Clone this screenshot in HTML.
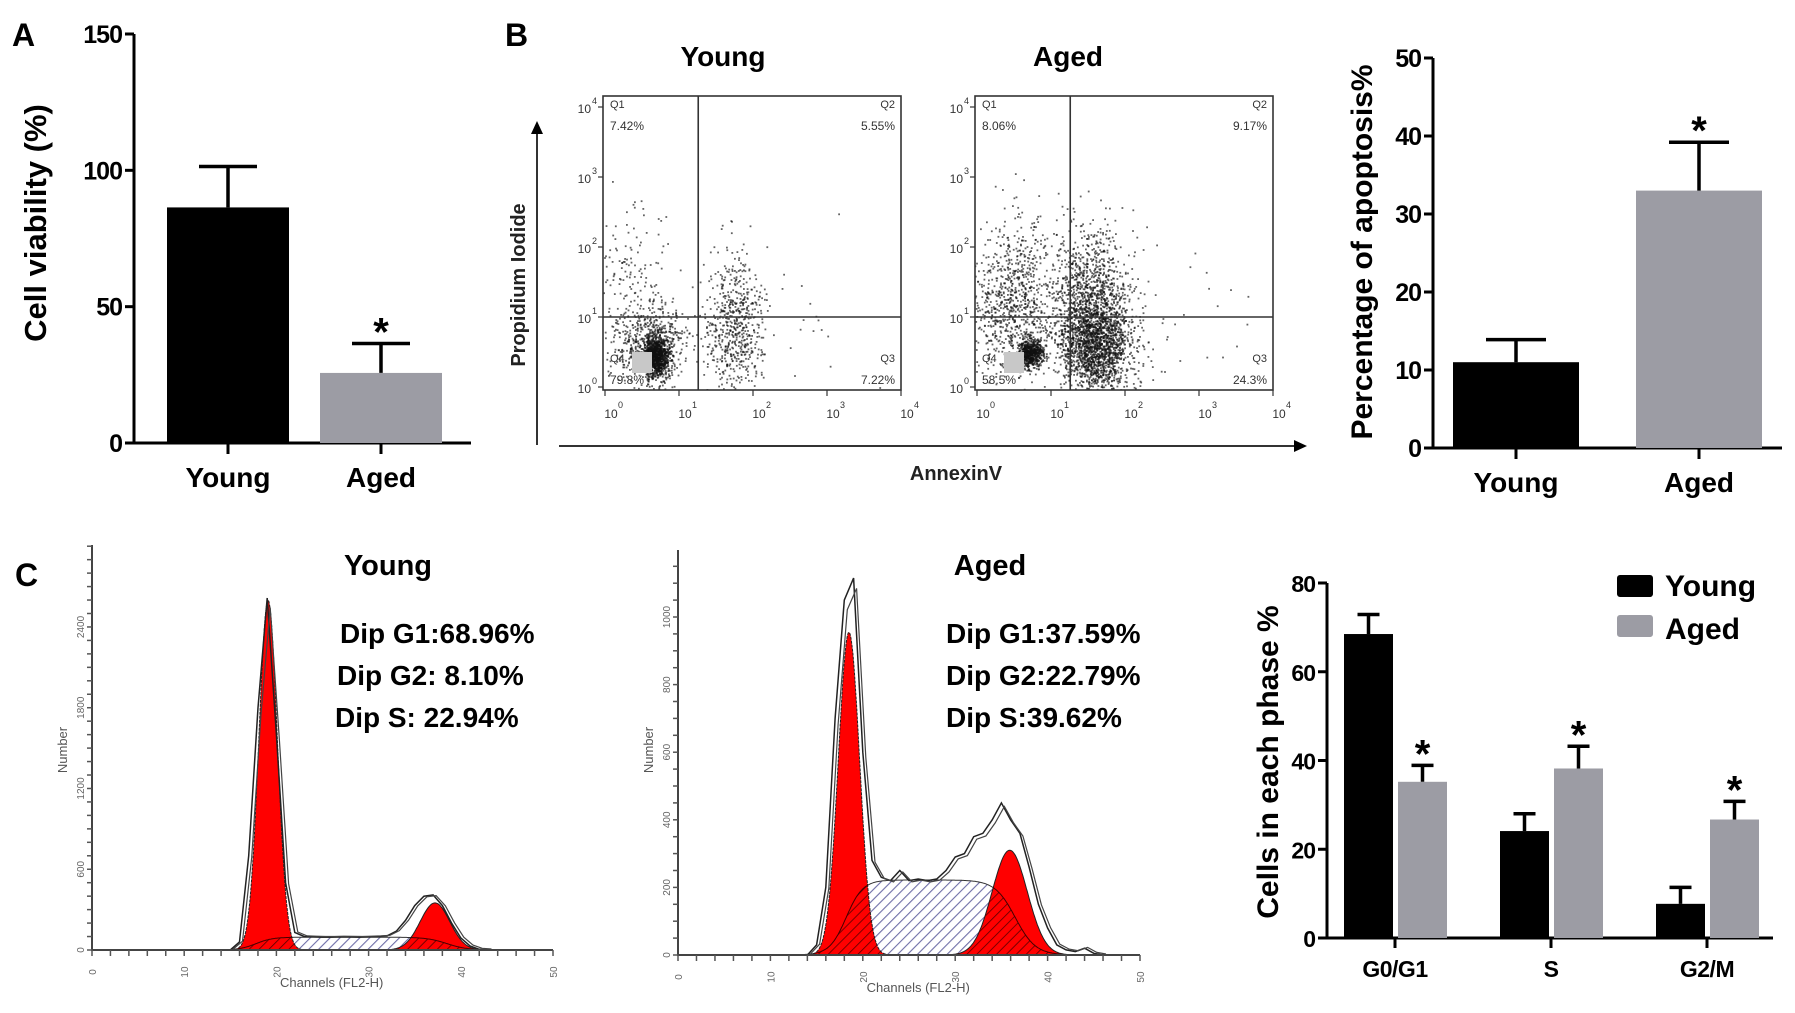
<!DOCTYPE html>
<html><head><meta charset="utf-8"><title>Young vs aged cells: viability, apoptosis and cell cycle</title>
<style>
html,body{margin:0;padding:0;background:#fff;}
svg{display:block;font-family:"Liberation Sans",Arial,sans-serif;}
</style></head>
<body>
<svg id="fig" width="1795" height="1013" viewBox="0 0 1795 1013" xmlns="http://www.w3.org/2000/svg">
<defs>
<pattern id="hatchS" patternUnits="userSpaceOnUse" width="7" height="7" patternTransform="rotate(45)">
<rect width="7" height="7" fill="#fff"/><line x1="0" y1="0" x2="0" y2="7" stroke="#6f6fa8" stroke-width="2.2"/>
</pattern>
<pattern id="hatchD" patternUnits="userSpaceOnUse" width="7" height="7" patternTransform="rotate(45)">
<line x1="0" y1="0" x2="0" y2="7" stroke="#5a0000" stroke-width="1.6"/>
</pattern>
</defs>
</svg>
<script>
// ---------- data ----------
const aCats = ['Young', 'Aged'];
const aVals = [86.4, 25.7];
const aErr = [101.4, 36.5];
const aTicks = [0, 50, 100, 150];

const bCats = ['Young', 'Aged'];
const bVals = [11.0, 33.0];
const bErr = [13.9, 39.2];
const bTicks = [0, 10, 20, 30, 40, 50];

const cCats = ['G0/G1', 'S', 'G2/M'];
const cYoung = [68.5, 24.1, 7.7];
const cYoungErr = [72.9, 28.0, 11.4];
const cAged = [35.2, 38.2, 26.7];
const cAgedErr = [38.9, 43.2, 30.8];
const cTicks = [0, 20, 40, 60, 80];
const cSig = [true, true, true];

// flow scatter clusters: [log10 AnnexinV, log10 PI, sdX, sdY, count]
const scYoung = [[0.68,0.45,0.08,0.14,900],[0.6,0.6,0.25,0.3,650],[0.3,1.6,0.25,0.5,150],[1.75,0.9,0.2,0.5,600],[2.5,1.0,0.7,0.6,30]];
const scAged = [[0.72,0.5,0.08,0.1,600],[0.5,1.2,0.3,0.6,900],[1.6,0.6,0.25,0.35,1800],[1.55,1.4,0.25,0.45,900],[2.5,0.9,0.6,0.5,40]];
const qYoung = ['7.42%', '5.55%', '7.22%', '79.8%'];
const qAged = ['8.06%', '9.17%', '24.3%', '58.5%'];
const decTicks = [0, 1, 2, 3, 4];

// DNA histograms: outline counts per channel (start channel, values)
const hYoungStart = 15;
const hYoungOutline = [0,60,700,1800,2615,1600,500,130,100,98,96,96,98,97,96,98,100,105,140,220,330,400,409,330,200,90,30,5,0];
const hAgedStart = 14;
const hAgedOutline = [0,30,200,700,1050,1115,600,280,230,220,250,220,225,220,225,250,290,300,350,360,400,450,400,360,260,150,80,30,15,10,20,5,0];
// model components: [mean, sd, height]
const hYoungG1 = [19.1, 1.0, 2600];
const hYoungG2 = [37.2, 1.6, 350];
const hYoungS = [17.8, 38.5, 95];
const hAgedG1 = [18.5, 1.15, 955];
const hAgedG2 = [35.9, 1.9, 310];
const hAgedS = [18.2, 36.5, 222];
const hYoungLabels = [0, 600, 1200, 1800, 2400];
const hAgedLabels = [0, 200, 400, 600, 800, 1000];
const chLabels = [0, 10, 20, 30, 40, 50];

// ---------- helpers ----------
const NS = 'http://www.w3.org/2000/svg';
const svg = document.getElementById('fig');
function mk(tag, attrs, parent) {
  const e = document.createElementNS(NS, tag);
  for (const k in attrs) e.setAttribute(k, attrs[k]);
  (parent || svg).appendChild(e);
  return e;
}
function txt(s, attrs, parent) { const t = mk('text', attrs, parent); t.textContent = s; return t; }
const F = '"Liberation Sans", Arial, sans-serif';

// ---------- panel letters ----------
let L = txt('A', {x: 12, y: 46, 'font-size': 32, 'font-weight': 'bold', 'font-family': F});


L = txt('B', {x: 505, y: 46, 'font-size': 32, 'font-weight': 'bold', 'font-family': F});


L = txt('C', {x: 15, y: 586, 'font-size': 32, 'font-weight': 'bold', 'font-family': F});



// ---------- generic bar chart ----------
function barChart(o) {
  const g = mk('g', {});
  
  
  const y = v => o.y0 - (v - o.min) / (o.max - o.min) * (o.y0 - o.yTop);
  const ax = mk('path', {d: `M${o.ax},${y(o.max)} V${o.y0} H${o.xEnd}`, stroke: '#000', 'stroke-width': 3, fill: 'none'}, g);
  
  
  o.ticks.forEach(t => {
    const tk = mk('line', {x1: o.ax - 9, x2: o.ax, y1: y(t), y2: y(t), stroke: '#000', 'stroke-width': 3}, g);
    
    
    const tl = txt(String(t), {x: o.ax - 12, y: y(t) + 9, 'text-anchor': 'end', 'font-size': o.tickFs, 'font-weight': 'bold', 'font-family': F, 'letter-spacing': -1}, g);
    
    
  });
  const tt = txt(o.title, {x: 0, y: 0, transform: `translate(${o.titleX},${o.titleY}) rotate(-90)`, 'text-anchor': 'middle', 'font-size': o.titleFs, 'font-weight': 'bold', 'font-family': F}, g);
  
  
  return {g, y};
}
function drawBar(g, y, x0, w, v, e, fill, capW, star, y0) {
  const r = mk('rect', {x: x0, y: y(v), width: w, height: y0 - y(v), fill: fill}, g);
  
  
  const cx = x0 + w / 2;
  const eb = mk('path', {d: `M${cx},${y(v)} V${y(e)} M${cx - capW / 2},${y(e)} H${cx + capW / 2}`, stroke: '#000', 'stroke-width': 3.5, fill: 'none'}, g);
  
  
  if (star) {
    const s = txt('*', {x: cx, y: y(e) + 2, 'text-anchor': 'middle', 'font-size': 40, 'font-weight': 'bold', 'font-family': F}, g);
    
    
  }
}

// ---------- Panel A ----------
(function () {
  const o = {name: 'cell-viability-chart', ax: 134, y0: 443, yTop: 34, min: 0, max: 150, xEnd: 471, ticks: aTicks, tickFs: 25, title: 'Cell viability (%)', titleX: 46, titleY: 223, titleFs: 31};
  const {g, y} = barChart(o);
  const centers = [228, 381];
  const bw = 122;
  aCats.forEach((c, i) => {
    drawBar(g, y, centers[i] - bw / 2, bw, aVals[i], aErr[i], i === 0 ? '#000' : '#9c9ca4', 58, i === 1, o.y0);
    const tk = mk('line', {x1: centers[i], x2: centers[i], y1: o.y0, y2: o.y0 + 11, stroke: '#000', 'stroke-width': 3}, g);
    
    
    const l = txt(c, {x: centers[i], y: 487, 'text-anchor': 'middle', 'font-size': 28, 'font-weight': 'bold', 'font-family': F}, g);
    
    
  });
})();

// ---------- Panel B right ----------
(function () {
  const o = {name: 'apoptosis-percentage-chart', ax: 1433, y0: 448, yTop: 58, min: 0, max: 50, xEnd: 1782, ticks: bTicks, tickFs: 25, title: 'Percentage of apoptosis%', titleX: 1372, titleY: 252, titleFs: 30};
  const {g, y} = barChart(o);
  const centers = [1516, 1699];
  const bw = 126;
  bCats.forEach((c, i) => {
    drawBar(g, y, centers[i] - bw / 2, bw, bVals[i], bErr[i], i === 0 ? '#000' : '#9c9ca4', 60, i === 1, o.y0);
    const tk = mk('line', {x1: centers[i], x2: centers[i], y1: o.y0, y2: o.y0 + 11, stroke: '#000', 'stroke-width': 3}, g);
    
    
    const l = txt(c, {x: centers[i], y: 492, 'text-anchor': 'middle', 'font-size': 28, 'font-weight': 'bold', 'font-family': F}, g);
    
    
  });
})();

// ---------- Panel C bar chart ----------
(function () {
  const o = {name: 'cell-cycle-phase-chart', ax: 1327, y0: 938, yTop: 583, min: 0, max: 80, xEnd: 1773, ticks: cTicks, tickFs: 23, title: 'Cells in each phase %', titleX: 1278, titleY: 762, titleFs: 30};
  const {g, y} = barChart(o);
  const centers = [1395, 1551, 1707];
  cCats.forEach((c, i) => {
    drawBar(g, y, centers[i] - 51, 49, cYoung[i], cYoungErr[i], '#000', 22, false, o.y0);
    drawBar(g, y, centers[i] + 3, 49, cAged[i], cAgedErr[i], '#9c9ca4', 22, cSig[i], o.y0);
    const tk = mk('line', {x1: centers[i], x2: centers[i], y1: o.y0, y2: o.y0 + 10, stroke: '#000', 'stroke-width': 3}, g);
    
    
    const l = txt(c, {x: centers[i], y: 977, 'text-anchor': 'middle', 'font-size': 23, 'font-weight': 'bold', 'font-family': F, 'letter-spacing': -0.5}, g);
    
    
  });
  const lg = mk('g', {}, g);
  
  
  const s1 = mk('rect', {x: 1617, y: 575, width: 36, height: 22, rx: 3, fill: '#000'}, lg);
  
  
  const t1 = txt('Young', {x: 1665, y: 596, 'font-size': 30, 'font-weight': 'bold', 'font-family': F}, lg);
  
  
  const s2 = mk('rect', {x: 1617, y: 615, width: 36, height: 22, rx: 3, fill: '#9c9ca4'}, lg);
  
  
  const t2 = txt('Aged', {x: 1665, y: 639, 'font-size': 30, 'font-weight': 'bold', 'font-family': F}, lg);
  
  
})();

// ---------- Panel B scatter plots ----------
function mulberry(a) { return function () { a |= 0; a = a + 0x6D2B79F5 | 0; let t = Math.imul(a ^ a >>> 15, 1 | a); t = t + Math.imul(t ^ t >>> 7, 61 | t) ^ t; return ((t ^ t >>> 14) >>> 0) / 4294967296; }; }
function scatter(name, left, title, titleX, clusters, quads, seed) {
  const g = mk('g', {});
  
  
  const top = 96, bot = 390, right = left + 298;
  const xS = d => left + 2 + d * 74;
  const yS = d => 387 - d * 70;
  const t = txt(title, {x: titleX, y: 66, 'text-anchor': 'middle', 'font-size': 28, 'font-weight': 'bold', 'font-family': F}, g);
  
  
  const cid = 'clip' + name;
  const cp = mk('clipPath', {id: cid}, g);
  mk('rect', {x: left, y: top, width: right - left, height: bot - top}, cp);
  const pg = mk('g', {'clip-path': `url(#${cid})`, fill: '#111', 'fill-opacity': 0.65}, g);
  
  
  const rnd = mulberry(seed);
  const gauss = () => { const u = rnd() || 1e-9, v = rnd(); return Math.sqrt(-2 * Math.log(u)) * Math.cos(2 * Math.PI * v); };
  clusters.forEach(c => {
    for (let i = 0; i < c[4]; i++) {
      const px = xS(c[0] + gauss() * c[2]);
      const py = yS(c[1] + gauss() * c[3]);
      mk('rect', {x: px.toFixed(1), y: py.toFixed(1), width: 1.8, height: 1.8}, pg);
    }
  });
  const gs = mk('rect', {x: left + 29, y: 352, width: 20, height: 21, fill: '#c8c8c8'}, g);
  
  
  const box = mk('rect', {x: left, y: top, width: right - left, height: bot - top, fill: 'none', stroke: '#333', 'stroke-width': 1.6}, g);
  
  
  const vq = mk('line', {x1: xS(1.26), x2: xS(1.26), y1: top, y2: bot, stroke: '#333', 'stroke-width': 1.6}, g);
  
  
  const hq = mk('line', {x1: left, x2: right, y1: yS(1), y2: yS(1), stroke: '#333', 'stroke-width': 1.6}, g);
  
  
  const qs = [['Q1', quads[0], left + 7, 108, 'start'], ['Q2', quads[1], right - 6, 108, 'end'], ['Q3', quads[2], right - 6, 362, 'end'], ['Q4', quads[3], left + 7, 362, 'start']];
  qs.forEach(q => {
    const a = txt(q[0], {x: q[2], y: q[3], 'text-anchor': q[4], 'font-size': 11, fill: '#333', 'font-family': F}, g);
    
    
    const b = txt(q[1], {x: q[2], y: q[3] + 22, 'text-anchor': q[4], 'font-size': 12, fill: '#333', 'font-family': F}, g);
    
    
  });
  decTicks.forEach(d => {
    const yl = txt('10', {x: left - 12, y: yS(d) + 6, 'text-anchor': 'end', 'font-size': 12, fill: '#333', 'font-family': F}, g);
    
    
    const ye = txt(String(d), {x: left - 11, y: yS(d) - 3, 'font-size': 9, fill: '#333', 'font-family': F}, g);
    
    
    const xl = txt('10', {x: xS(d) + 6, y: 418, 'text-anchor': 'middle', 'font-size': 12, fill: '#333', 'font-family': F}, g);
    
    
    const xe = txt(String(d), {x: xS(d) + 13, y: 408, 'font-size': 9, fill: '#333', 'font-family': F}, g);
    
    
    const tk = mk('line', {x1: xS(d), x2: xS(d), y1: bot, y2: bot + 6, stroke: '#333', 'stroke-width': 1.2}, g);
    
    
    const tky = mk('line', {x1: left - 5, x2: left, y1: yS(d), y2: yS(d), stroke: '#333', 'stroke-width': 1.2}, g);
    
    
  });
}
scatter('young-annexin-scatter', 603, 'Young', 723, scYoung, qYoung, 11);
scatter('aged-annexin-scatter', 975, 'Aged', 1068, scAged, qAged, 29);
(function () {
  const g = mk('g', {});
  
  
  const a1 = mk('path', {d: 'M537,445 V132', stroke: '#333', 'stroke-width': 2, fill: 'none'}, g);
  
  
  const h1 = mk('path', {d: 'M531,134 L537,121 L543,134 Z', fill: '#000'}, g);
  
  
  const a2 = mk('path', {d: 'M559,446 H1296', stroke: '#333', 'stroke-width': 2, fill: 'none'}, g);
  
  
  const h2 = mk('path', {d: 'M1294,440 L1307,446 L1294,452 Z', fill: '#000'}, g);
  
  
  const t1 = txt('Propidium Iodide', {x: 0, y: 0, transform: 'translate(525,285) rotate(-90)', 'text-anchor': 'middle', 'font-size': 20, 'font-weight': 'bold', fill: '#222', 'font-family': F}, g);
  
  
  const t2 = txt('AnnexinV', {x: 956, y: 480, 'text-anchor': 'middle', 'font-size': 20, 'font-weight': 'bold', fill: '#222', 'font-family': F}, g);
  
  
})();

// ---------- Panel C histograms ----------
function gaussF(p) { return c => p[2] * Math.exp(-0.5 * Math.pow((c - p[0]) / p[1], 2)); }
function sF(p) { const sg = z => 1 / (1 + Math.exp(-z)); return c => p[2] * sg((c - p[0]) / 0.9) * sg((p[1] - c) / 1.1); }
function hist(o) {
  const g = mk('g', {});
  
  
  const x = c => o.x0 + c * o.k;
  const y = n => o.y0 - n * o.s;
  const area = (f, a, b) => { let d = `M${x(a)},${y(0)}`; for (let c = a; c <= b + 1e-6; c += 0.1) d += ` L${x(c).toFixed(1)},${y(f(c)).toFixed(1)}`; return d + ` L${x(b)},${y(0)} Z`; };
  const g1 = gaussF(o.g1), g2 = gaussF(o.g2), sp = sF(o.sp);
  const sA = mk('path', {d: area(sp, 12, 45), fill: 'url(#hatchS)', stroke: '#333', 'stroke-width': 1}, g);
  
  
  const r1 = mk('path', {d: area(g1, o.g1[0] - 4.5 * o.g1[1], o.g1[0] + 4.5 * o.g1[1]), fill: '#f00', stroke: '#222', 'stroke-width': 1, 'stroke-dasharray': '3 1'}, g);
  
  
  const r2 = mk('path', {d: area(g2, o.g2[0] - 4 * o.g2[1], o.g2[0] + 4 * o.g2[1]), fill: '#f00', stroke: '#222', 'stroke-width': 1}, g);
  
  
  const cid = 'cl' + o.name;
  const cp = mk('clipPath', {id: cid}, g);
  mk('path', {d: area(g1, o.g1[0] - 4.5 * o.g1[1], o.g1[0] + 4.5 * o.g1[1])}, cp);
  mk('path', {d: area(g2, o.g2[0] - 4 * o.g2[1], o.g2[0] + 4 * o.g2[1])}, cp);
  const sD = mk('path', {d: area(sp, 12, 45), fill: 'url(#hatchD)', stroke: '#400', 'stroke-width': 1, 'clip-path': `url(#${cid})`}, g);
  
  
  let d1 = '', d2 = '';
  o.outline.forEach((n, i) => { const c = o.start + i; d1 += (i ? ' L' : 'M') + x(c).toFixed(1) + ',' + y(n).toFixed(1); d2 += (i ? ' L' : 'M') + (x(c) + 3).toFixed(1) + ',' + (y(n * 0.97) - 1).toFixed(1); });
  const ol = mk('path', {d: d1, fill: 'none', stroke: '#222', 'stroke-width': 1.5}, g);
  
  
  const ol2 = mk('path', {d: d2, fill: 'none', stroke: '#444', 'stroke-width': 1.2}, g);
  
  
  const ax = mk('path', {d: `M${o.x0},${o.axTop} V${o.y0} H${x(50)}`, fill: 'none', stroke: '#444', 'stroke-width': 2}, g);
  
  
  for (let n = 0; y(n) >= o.axTop; n += o.minor) {
    const tk = mk('line', {x1: o.x0 - 5, x2: o.x0, y1: y(n), y2: y(n), stroke: '#555', 'stroke-width': 1.5}, g);
    
    
  }
  for (let c = 0; c <= 50; c += 2) {
    const tk = mk('line', {x1: x(c), x2: x(c), y1: o.y0, y2: o.y0 + 6, stroke: '#555', 'stroke-width': 1.5}, g);
    
    
  }
  o.labels.forEach(n => {
    const t = txt(String(n), {x: 0, y: 0, transform: `translate(${o.x0 - 8},${y(n)}) rotate(-90)`, 'text-anchor': 'middle', 'font-size': 10, fill: '#666', 'font-family': F}, g);
    
    
  });
  chLabels.forEach(c => {
    const t = txt(String(c), {x: 0, y: 0, transform: `translate(${x(c) + 4},${o.y0 + 22}) rotate(-90)`, 'text-anchor': 'middle', 'font-size': 10, fill: '#666', 'font-family': F}, g);
    
    
  });
  const xt = txt('Channels (FL2-H)', {x: x(26), y: o.y0 + 37, 'text-anchor': 'middle', 'font-size': 13, fill: '#555', 'font-family': F}, g);
  
  
  const yt = txt('Number', {x: 0, y: 0, transform: `translate(${o.x0 - 25},750) rotate(-90)`, 'text-anchor': 'middle', 'font-size': 13, fill: '#555', 'font-family': F}, g);
  
  
  const tt = txt(o.title, {x: o.titleX, y: 575, 'text-anchor': 'middle', 'font-size': 29, 'font-weight': 'bold', 'font-family': F}, g);
  
  
  o.stats.forEach((s, i) => {
    const st = txt(s, {x: o.statX[i], y: 643 + i * 42, 'font-size': 28, 'font-weight': 'bold', 'font-family': F}, g);
    
    
  });
}
hist({name: 'young-dna-histogram', x0: 92, k: 9.22, y0: 950, s: 0.1346, axTop: 545, minor: 100, labels: hYoungLabels, outline: hYoungOutline, start: hYoungStart, g1: hYoungG1, g2: hYoungG2, sp: hYoungS, title: 'Young', titleX: 388, stats: ['Dip G1:68.96%', 'Dip G2: 8.10%', 'Dip S: 22.94%'], statX: [340, 337, 335]});
hist({name: 'aged-dna-histogram', x0: 678, k: 9.24, y0: 955, s: 0.338, axTop: 550, minor: 50, labels: hAgedLabels, outline: hAgedOutline, start: hAgedStart, g1: hAgedG1, g2: hAgedG2, sp: hAgedS, title: 'Aged', titleX: 990, stats: ['Dip G1:37.59%', 'Dip G2:22.79%', 'Dip S:39.62%'], statX: [946, 946, 946]});
</script>
</body></html>
